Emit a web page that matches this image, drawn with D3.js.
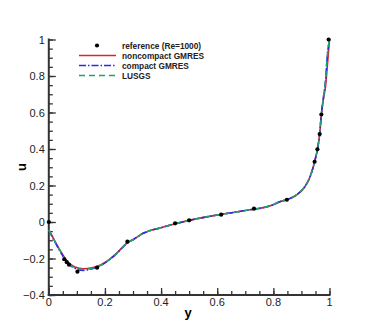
<!DOCTYPE html>
<html>
<head>
<meta charset="utf-8">
<script src="https://cdn.jsdelivr.net/npm/d3@7"></script>
<style>
  body { margin: 0; background: #fff; }
  svg { font-family: "Liberation Sans", Arial, sans-serif; }
</style>
</head>
<body>
<svg id="chart" width="374" height="332"></svg>
<script>
// reference points (Re=1000)
const refY = [0, 0.055, 0.064, 0.072, 0.102, 0.172, 0.28, 0.45, 0.5, 0.614, 0.731, 0.848, 0.947, 0.957, 0.965, 0.971, 0.997];
const refU = [0, -0.204, -0.22, -0.234, -0.272, -0.25, -0.108, -0.007, 0.009, 0.04, 0.073, 0.122, 0.33, 0.398, 0.482, 0.589, 1];

// computed profiles
const lineY = [0, 0.022, 0.046, 0.07, 0.093, 0.123, 0.153, 0.173, 0.206, 0.242, 0.277, 0.304, 0.336, 0.4, 0.45, 0.5, 0.6, 0.7, 0.8, 0.823, 0.852, 0.882, 0.912, 0.93, 0.941, 0.947, 0.957, 0.965, 0.971, 0.979, 0.986, 0.992, 1];
const noncompactU = [-0.042, -0.106, -0.17, -0.222, -0.246, -0.256, -0.251, -0.243, -0.216, -0.171, -0.117, -0.093, -0.062, -0.031, -0.01, 0.009, 0.038, 0.063, 0.095, 0.111, 0.124, 0.148, 0.193, 0.245, 0.296, 0.33, 0.398, 0.482, 0.589, 0.68, 0.745, 0.85, 1];
const compactU = [-0.045, -0.11, -0.176, -0.23, -0.254, -0.265, -0.257, -0.247, -0.218, -0.173, -0.118, -0.093, -0.062, -0.031, -0.01, 0.009, 0.038, 0.063, 0.095, 0.111, 0.124, 0.148, 0.193, 0.245, 0.296, 0.33, 0.398, 0.482, 0.589, 0.69, 0.778, 0.906, 1];
const lusgsU = [-0.043, -0.108, -0.172, -0.226, -0.25, -0.26, -0.254, -0.245, -0.217, -0.172, -0.117, -0.093, -0.062, -0.031, -0.01, 0.009, 0.038, 0.063, 0.095, 0.111, 0.124, 0.148, 0.193, 0.245, 0.296, 0.33, 0.398, 0.482, 0.589, 0.69, 0.778, 0.906, 1];

const xTicks = [0, 0.2, 0.4, 0.6, 0.8, 1];
const yTicks = [-0.4, -0.2, 0, 0.2, 0.4, 0.6, 0.8, 1];

const svg = d3.select("#chart");
const x = d3.scaleLinear().domain([0, 1]).range([48.8, 329.5]);
const y = d3.scaleLinear().domain([-0.4, 1]).range([295, 39.5]);

const minorX = d3.range(0, 1.0001, 0.05);
const minorY = d3.range(-0.4, 1.0001, 0.05);

// axes (ticks pointing inward)
const axisColor = "#333";
const xAxis = svg.append("g").attr("transform", "translate(0," + y(-0.4) + ")");
xAxis.append("g")
  .call(d3.axisTop(x).tickValues(minorX).tickSize(4).tickFormat(""))
  .call((g) => g.select(".domain").remove());
xAxis.append("g")
  .call(d3.axisTop(x).tickValues(xTicks).tickSize(7).tickFormat(""))
  .call((g) => g.select(".domain").remove());
xAxis.selectAll("line").attr("stroke", axisColor).attr("stroke-width", 1.3);
xAxis.append("line")
  .attr("x1", x(0) - 1).attr("x2", x(1) + 1)
  .attr("stroke", axisColor).attr("stroke-width", 2);
xAxis.selectAll(".xlab")
  .data(xTicks)
  .enter()
  .append("text")
  .attr("class", "xlab")
  .attr("x", (d) => x(d))
  .attr("y", 11)
  .attr("text-anchor", "middle")
  .attr("font-size", 11)
  .attr("fill", "#222")
  .text((d) => d3.format("")(d));

const yAxis = svg.append("g").attr("transform", "translate(" + x(0) + ",0)");
yAxis.append("g")
  .call(d3.axisRight(y).tickValues(minorY).tickSize(4).tickFormat(""))
  .call((g) => g.select(".domain").remove());
yAxis.append("g")
  .call(d3.axisRight(y).tickValues(yTicks).tickSize(7).tickFormat(""))
  .call((g) => g.select(".domain").remove());
yAxis.selectAll("line").attr("stroke", axisColor).attr("stroke-width", 1.3);
yAxis.append("line")
  .attr("y1", y(-0.4) + 1).attr("y2", y(1) - 1)
  .attr("stroke", axisColor).attr("stroke-width", 2);
yAxis.selectAll(".ylab")
  .data(yTicks)
  .enter()
  .append("text")
  .attr("class", "ylab")
  .attr("x", -4)
  .attr("y", (d) => y(d) + 4)
  .attr("text-anchor", "end")
  .attr("font-size", 11)
  .attr("fill", "#222")
  .text((d) => d3.format("")(d));

// axis titles
svg.append("text")
  .attr("x", 188).attr("y", 317)
  .attr("text-anchor", "middle")
  .attr("font-size", 13).attr("font-weight", "bold")
  .text("y");
svg.append("text")
  .attr("transform", "translate(26,167) rotate(-90)")
  .attr("text-anchor", "middle")
  .attr("font-size", 13).attr("font-weight", "bold")
  .text("u");

// curves
const series = [
  { name: "noncompact GMRES", u: noncompactU, color: "#e0202a", dash: null },
  { name: "compact GMRES", u: compactU, color: "#2a2aee", dash: "7,2,1.5,2" },
  { name: "LUSGS", u: lusgsU, color: "#1fa36a", dash: "6,4" },
];

const line = d3.line()
  .x((d) => x(d[0]))
  .y((d) => y(d[1]))
  .curve(d3.curveMonotoneX);

series.forEach((s) => {
  svg.append("path")
    .datum(lineY.map((v, i) => [v, s.u[i]]))
    .attr("d", line)
    .attr("fill", "none")
    .attr("stroke", s.color)
    .attr("stroke-width", 1.6)
    .attr("stroke-dasharray", s.dash);
});

svg.append("g")
  .selectAll("circle")
  .data(refY.map((v, i) => [v, refU[i]]))
  .enter()
  .append("circle")
  .attr("cx", (d) => x(d[0]))
  .attr("cy", (d) => y(d[1]))
  .attr("r", 2.1)
  .attr("fill", "#000");

// legend
const legend = svg.append("g");
legend.append("circle").attr("cx", 97).attr("cy", 45.5).attr("r", 2.1).attr("fill", "#000");
series.forEach((s, i) => {
  legend.append("line")
    .attr("x1", 79).attr("x2", 116)
    .attr("y1", 55.5 + i * 10).attr("y2", 55.5 + i * 10)
    .attr("stroke", s.color).attr("stroke-width", 1.6)
    .attr("stroke-dasharray", s.dash);
});
const labels = ["reference (Re=1000)"].concat(series.map((s) => s.name));
legend.selectAll("text")
  .data(labels)
  .enter()
  .append("text")
  .attr("x", 122)
  .attr("y", (d, i) => 48.5 + i * 10)
  .attr("font-size", 8.3)
  .attr("font-weight", "bold")
  .attr("fill", "#222")
  .text((d) => d);
</script>
</body>
</html>
